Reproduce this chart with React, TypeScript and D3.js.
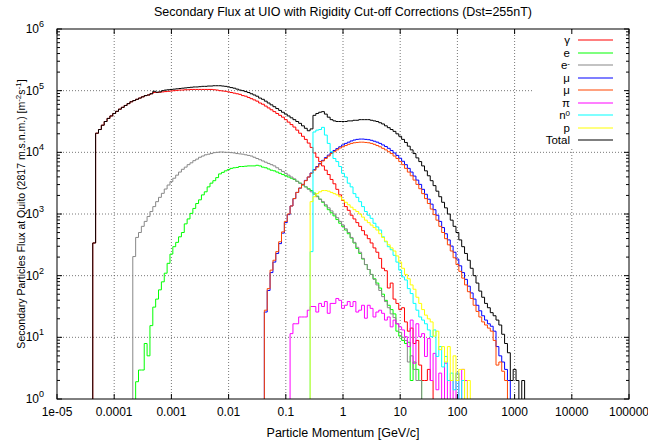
import * as d3 from 'd3';
import React from 'react';

const WIDTH = 648;
const HEIGHT = 441;
const MARGIN = { top: 29, right: 19, bottom: 42, left: 57 };
const BINS_PER_DECADE = 20;

const TITLE = 'Secondary Flux at UIO with Rigidity Cut-off Corrections (Dst=255nT)';
const X_LABEL = 'Particle Momentum [GeV/c]';

const xTickValues = [1e-5, 1e-4, 1e-3, 1e-2, 1e-1, 1, 10, 100, 1000, 10000, 100000];
const xTickLabels = ['1e-05', '0.0001', '0.001', '0.01', '0.1', '1', '10', '100', '1000', '10000', '100000'];
const yTickExponents = [0, 1, 2, 3, 4, 5, 6];

// histogram values: log10(flux) per bin (20 bins / decade),
// each series starts at the bin centred on its *Start momentum [GeV/c]
const gammaStart = 4.47e-5;
const gammaLogFlux = [
  2.53, 4.31, 4.37, 4.44, 4.5, 4.55, 4.59, 4.63,
  4.665, 4.7, 4.73, 4.76, 4.79, 4.82, 4.84, 4.86, 4.88, 4.9,
  4.92, 4.93, 4.95, 4.97, 4.97, 4.975, 4.98, 4.985, 4.99, 4.995,
  5.0, 5.005, 5.01, 5.01, 5.015, 5.015, 5.02, 5.02, 5.02, 5.02,
  5.02, 5.02, 5.02, 5.02, 5.015, 5.01, 5.0, 4.995, 4.99, 4.98,
  4.97, 4.96, 4.95, 4.94, 4.92, 4.91, 4.89, 4.87, 4.85, 4.83,
  4.8, 4.78, 4.75, 4.72, 4.69, 4.66, 4.63, 4.6, 4.57, 4.53,
  4.49, 4.45, 4.41, 4.36, 4.31, 4.26, 4.21, 4.15, 4.08, 3.99,
  3.92, 3.85, 3.78, 3.71, 3.64, 3.56, 3.49, 3.4, 3.31, 3.22,
  3.12, 3.06, 2.98, 2.92, 2.86, 2.8, 2.73, 2.66, 2.6, 2.53,
  2.45, 2.38, 2.28, 2.12, 2.08, 1.8, 1.88, 1.62, 1.55, 1.45,
  1.48, 1.25, 1.1, 1.15, 0.9, 0.95, 0.55, 0.3, 0.3, 0.48, 0.3,
];

const positronStart = 2.51e-4;
const positronLogFlux = [
  0.28, 0.47, 0.47,
  0.9, 0.7, 1.19, 1.49, 1.62, 1.77, 1.9, 2.04, 2.2, 2.35,
  2.47, 2.54, 2.63, 2.7, 2.84, 2.92, 3.01, 3.09, 3.17, 3.23,
  3.31, 3.36, 3.44, 3.5, 3.54, 3.59, 3.65, 3.675, 3.7, 3.72,
  3.74, 3.75, 3.755, 3.77, 3.77, 3.775, 3.78, 3.78, 3.78, 3.79,
  3.78, 3.76, 3.75, 3.73, 3.71, 3.7, 3.68, 3.66, 3.64, 3.62,
  3.6, 3.58, 3.56, 3.53, 3.5, 3.47, 3.44, 3.41, 3.38, 3.34,
  3.29, 3.24, 3.19, 3.13, 3.07, 3.02, 2.97, 2.91, 2.85, 2.8,
  2.74, 2.68, 2.61, 2.53, 2.44, 2.36, 2.27, 2.18, 2.1, 2.02,
  1.95, 1.88, 1.8, 1.7, 1.6, 1.52, 1.45, 1.38, 1.1, 1.02,
  0.95, 0.9, 0.92, 0.3, 0.6, 0.48, 0.3,
];

const electronStart = 2.24e-4;
const electronLogFlux = [
  2.31, 2.62, 2.7, 2.8,
  2.88, 2.96, 3.04, 3.12, 3.2, 3.27, 3.335, 3.405, 3.47, 3.525,
  3.58, 3.63, 3.68, 3.725, 3.76, 3.8, 3.83, 3.865, 3.89, 3.92,
  3.94, 3.96, 3.97, 3.98, 3.995, 4.0, 4.005, 4.005, 4.0, 4.0,
  3.995, 3.99, 3.98, 3.975, 3.97, 3.96, 3.95, 3.94, 3.92, 3.9,
  3.88, 3.86, 3.84, 3.82, 3.8, 3.78, 3.75, 3.72, 3.69, 3.66,
  3.63, 3.6, 3.57, 3.53, 3.5, 3.47, 3.44, 3.4, 3.36, 3.32,
  3.28, 3.24, 3.2, 3.15, 3.1, 3.05, 3.0, 2.94, 2.88, 2.82,
  2.76, 2.7, 2.62, 2.54, 2.46, 2.38, 2.28, 2.18, 2.1, 2.02,
  1.94, 1.85, 1.76, 1.66, 1.58, 1.48, 1.38, 1.32, 1.22, 1.08,
  1.0, 0.95, 0.6, 0.7, 0.48, 0.3, 0.3,
];

const muPlusStart = 0.0447;
const muPlusLogFlux = [
  1.41, 1.76, 2.05, 2.22, 2.36, 2.52, 2.69, 2.86,
  2.99, 3.13, 3.25, 3.35, 3.42, 3.48, 3.545, 3.6, 3.665, 3.72,
  3.77, 3.82, 3.87, 3.915, 3.955, 3.995, 4.03, 4.06, 4.09, 4.12,
  4.145, 4.165, 4.185, 4.2, 4.21, 4.215, 4.215, 4.21, 4.205, 4.195,
  4.18, 4.165, 4.145, 4.12, 4.095, 4.065, 4.03, 3.99, 3.95, 3.905,
  3.855, 3.8, 3.74, 3.68, 3.615, 3.55, 3.48, 3.4, 3.32, 3.24,
  3.16, 3.07, 2.98, 2.88, 2.78, 2.68, 2.58, 2.48, 2.38, 2.27,
  2.16, 2.05, 1.94, 1.83, 1.72, 1.62, 1.52, 1.43, 1.35, 1.28,
  1.22, 1.18, 1.1, 0.85, 0.7, 0.6, 0.48, 0.3,
];

const muMinusStart = 0.0447;
const muMinusLogFlux = [
  1.44, 1.79, 2.09, 2.25, 2.39, 2.55, 2.71, 2.88,
  3.0, 3.13, 3.25, 3.35, 3.42, 3.48, 3.54, 3.6, 3.66, 3.71,
  3.76, 3.81, 3.86, 3.9, 3.94, 3.98, 4.01, 4.04, 4.07, 4.09,
  4.11, 4.13, 4.145, 4.155, 4.16, 4.165, 4.165, 4.16, 4.155, 4.145,
  4.13, 4.11, 4.09, 4.065, 4.04, 4.01, 3.98, 3.94, 3.9, 3.85,
  3.8, 3.74, 3.68, 3.62, 3.55, 3.48, 3.41, 3.33, 3.25, 3.17,
  3.08, 2.99, 2.9, 2.8, 2.7, 2.6, 2.5, 2.4, 2.29, 2.18,
  2.07, 1.96, 1.85, 1.74, 1.63, 1.52, 1.42, 1.33, 1.25, 1.2,
  1.15, 1.1, 0.95, 0.55, 0.6, 0.45, 0.3,
];

const pionStart = 0.126;
const pionLogFlux = [
  1.06, 1.22, 1.22, 1.33, 1.33, 1.33, 1.44, 1.5, 1.5,
  1.41, 1.55, 1.5, 1.58, 1.39, 1.55, 1.55, 1.63, 1.6, 1.47,
  1.52, 1.58, 1.5, 1.58, 1.41, 1.44, 1.52, 1.31, 1.52, 1.47,
  1.33, 1.41, 1.44, 1.39, 1.28, 1.33, 1.17, 1.28, 1.22, 1.17,
  1.12, 1.01, 0.85, 1.28, 0.58, 1.22, 1.01, 1.06, 0.69, 0.98,
  0.3, 0.74, 0.15, 0.42, null, 0.58, null, 0.3, null, 0.42, null, 0.48, 0.3,
];

const neutronStart = 0.282;
const neutronLogFlux = [
  2.39, 4.33,
  4.36, 4.37, 4.405, 4.28, 4.145, 4.01, 3.9, 3.85, 3.77, 3.66,
  3.6, 3.5, 3.44, 3.33, 3.27, 3.2, 3.12, 3.04, 2.98, 2.93,
  2.85, 2.79, 2.74, 2.63, 2.55, 2.47, 2.42, 2.33, 2.22, 2.09,
  1.98, 1.93, 1.79, 1.71, 1.55, 1.44, 1.33, 1.28, 1.22, 1.12,
  1.01, 1.12, 0.69, 0.85, 0.52, 0.69, 0.3, 0.42, 0.15, 0.42, null, 0.3,
];

const protonStart = 0.282;
const protonLogFlux = [
  3.2, 3.28,
  3.33, 3.36, 3.38, 3.38, 3.37, 3.35, 3.33, 3.31, 3.28, 3.23,
  3.19, 3.15, 3.11, 3.07, 3.04, 3.0, 2.95, 2.9, 2.86, 2.82,
  2.78, 2.74, 2.68, 2.62, 2.56, 2.5, 2.45, 2.4, 2.32, 2.22,
  2.12, 2.02, 1.95, 1.85, 1.78, 1.65, 1.55, 1.45, 1.36, 1.3,
  1.25, 1.02, 1.1, 0.8, 0.85, 0.6, 0.85, 0.3, 0.7, 0.3, 0.48, 0.48, null, 0.3,
];

const totalStart = 4.47e-5;
const totalLogFlux = [
  2.53, 4.31, 4.37, 4.44, 4.5, 4.55, 4.59, 4.63,
  4.665, 4.7, 4.73, 4.76, 4.79, 4.82, 4.84, 4.86, 4.88, 4.9,
  4.92, 4.93, 4.95, 4.99, 4.975, 4.98, 5.0, 5.01, 5.015, 5.02,
  5.025, 5.03, 5.035, 5.04, 5.045, 5.05, 5.055, 5.06, 5.06, 5.065,
  5.07, 5.07, 5.075, 5.075, 5.08, 5.08, 5.08, 5.075, 5.07, 5.06,
  5.05, 5.04, 5.025, 5.01, 5.0, 4.985, 4.97, 4.95, 4.93, 4.91,
  4.88, 4.86, 4.83, 4.8, 4.77, 4.74, 4.71, 4.68, 4.65, 4.62,
  4.59, 4.56, 4.53, 4.5, 4.47, 4.43, 4.39, 4.35, 4.38, 4.6,
  4.63, 4.65, 4.66, 4.62, 4.57, 4.53, 4.51, 4.5, 4.5, 4.5,
  4.5, 4.51, 4.51, 4.52, 4.52, 4.53, 4.53, 4.53, 4.53, 4.52,
  4.51, 4.5, 4.48, 4.46, 4.43, 4.4, 4.37, 4.34, 4.3, 4.26,
  4.21, 4.16, 4.1, 4.04, 3.98, 3.91, 3.85, 3.78, 3.7, 3.62,
  3.54, 3.46, 3.37, 3.28, 3.19, 3.1, 3.0, 2.9, 2.8, 2.7,
  2.58, 2.47, 2.36, 2.25, 2.12, 2.0, 1.88, 1.75, 1.65, 1.55,
  1.48, 1.4, 1.35, 1.28, 1.2, 1.05, 0.9, 0.75, 0.3, 0.48,
  0.3, null, 0.3,
];

interface Series {
  label: string;
  sup?: string;
  color: string;
  start: number;
  values: (number | null)[];
}

const series: Series[] = [
  { label: 'γ', color: '#ff0000', start: gammaStart, values: gammaLogFlux },
  { label: 'e', color: '#00ff00', start: positronStart, values: positronLogFlux },
  { label: 'e', sup: '-', color: '#888888', start: electronStart, values: electronLogFlux },
  { label: 'μ', color: '#0000ff', start: muPlusStart, values: muPlusLogFlux },
  { label: 'μ', color: '#ff4500', start: muMinusStart, values: muMinusLogFlux },
  { label: 'π', color: '#ff00ff', start: pionStart, values: pionLogFlux },
  { label: 'n', sup: '0', color: '#00ffff', start: neutronStart, values: neutronLogFlux },
  { label: 'p', color: '#ffff00', start: protonStart, values: protonLogFlux },
  { label: 'Total', color: '#000000', start: totalStart, values: totalLogFlux },
];

const FONT = '"Liberation Sans", Arial, Helvetica, sans-serif';

const x = d3.scaleLog().domain([1e-5, 1e5]).range([MARGIN.left, WIDTH - MARGIN.right]);
const y = d3.scaleLog().domain([1, 1e6]).range([HEIGHT - MARGIN.bottom, MARGIN.top]);
const BELOW = HEIGHT - MARGIN.bottom + 6;

const line = d3.line<[number, number]>().curve(d3.curveStepAfter);

const stepPath = (s: Series) => {
  const k0 = Math.round((Math.log10(s.start) + 5) * BINS_PER_DECADE);
  const edge = (k: number) => x(Math.pow(10, -5 + (k - 0.5) / BINS_PER_DECADE));
  const yv = (v: number | null) => (v == null ? BELOW : y(Math.pow(10, v)));
  const pts: [number, number][] = [[edge(k0), BELOW]];
  s.values.forEach((v, i) => pts.push([edge(k0 + i), yv(v)]));
  const kEnd = k0 + s.values.length;
  pts.push([edge(kEnd), yv(s.values[s.values.length - 1])]);
  pts.push([edge(kEnd), BELOW]);
  return line(pts) || '';
};

const App: React.FC = () => {
  const x0 = MARGIN.left;
  const x1 = WIDTH - MARGIN.right;
  const y0 = MARGIN.top;
  const y1 = HEIGHT - MARGIN.bottom;
  const minorY: number[] = [];
  for (let e = 0; e < 6; e++) for (let m = 2; m <= 9; m++) minorY.push(m * Math.pow(10, e));
  const legendX = 570;
  const legendY = (i: number) => 40 + i * 12.5;

  return (
    <svg width={WIDTH} height={HEIGHT} style={{ position: 'absolute', left: 0, top: 0, background: '#fff' }} fontFamily={FONT}>
      <defs>
        <clipPath id="plotClip">
          <rect x={x0} y={y0} width={x1 - x0} height={y1 - y0} />
        </clipPath>
      </defs>
      <rect width={WIDTH} height={HEIGHT} fill="#fff" />

      {/* grid */}
      <g stroke="#555" strokeWidth={0.8} strokeDasharray="1,2">
        {xTickValues.slice(1, -1).map(v => (
          <line key={`gx${v}`} x1={x(v)} x2={x(v)} y1={y0} y2={y1} />
        ))}
        {yTickExponents.slice(1, -1).map(e => (
          <line key={`gy${e}`} x1={x0} x2={x1} y1={y(Math.pow(10, e))} y2={y(Math.pow(10, e))} />
        ))}
      </g>

      {/* histograms */}
      <g clipPath="url(#plotClip)" fill="none" strokeWidth={1}>
        {series.map((s, i) => (
          <path key={i} d={stepPath(s)} stroke={s.color} />
        ))}
      </g>

      {/* legend */}
      <rect x={532} y={31} width={95} height={116} fill="#fff" />
      <g fontSize={11.5}>
        {series.map((s, i) => (
          <g key={i}>
            <text x={legendX} y={legendY(i) + 4} textAnchor="end">
              {s.label}
              {s.sup && (
                <tspan dy={-3.5} fontSize={8}>
                  {s.sup}
                </tspan>
              )}
            </text>
            <line
              x1={578}
              x2={613}
              y1={Math.round(legendY(i))}
              y2={Math.round(legendY(i))}
              stroke={s.color}
              strokeWidth={1.2}
            />
          </g>
        ))}
      </g>

      {/* border and ticks */}
      <rect x={x0} y={y0} width={x1 - x0} height={y1 - y0} fill="none" stroke="#000" strokeWidth={1} />
      <g stroke="#000" strokeWidth={1}>
        {xTickValues.map(v => (
          <g key={`tx${v}`}>
            <line x1={x(v)} x2={x(v)} y1={y1} y2={y1 - 5} />
            <line x1={x(v)} x2={x(v)} y1={y0} y2={y0 + 5} />
          </g>
        ))}
        {yTickExponents.map(e => (
          <g key={`ty${e}`}>
            <line x1={x0} x2={x0 + 5} y1={y(Math.pow(10, e))} y2={y(Math.pow(10, e))} />
            <line x1={x1} x2={x1 - 5} y1={y(Math.pow(10, e))} y2={y(Math.pow(10, e))} />
          </g>
        ))}
        {minorY.map(v => (
          <g key={`my${v}`}>
            <line x1={x0} x2={x0 + 3} y1={y(v)} y2={y(v)} />
            <line x1={x1} x2={x1 - 3} y1={y(v)} y2={y(v)} />
          </g>
        ))}
      </g>

      {/* tick labels */}
      <g fontSize={12} fill="#000">
        {xTickValues.map((v, i) => (
          <text key={`lx${v}`} x={x(v)} y={y1 + 17} textAnchor="middle">
            {xTickLabels[i]}
          </text>
        ))}
        {yTickExponents.map(e => (
          <text key={`ly${e}`} x={x0 - 13} y={y(Math.pow(10, e)) + 4} textAnchor="end">
            10
            <tspan dy={-6} fontSize={9}>
              {e}
            </tspan>
          </text>
        ))}
      </g>

      {/* titles */}
      <text x={(x0 + x1) / 2} y={16} textAnchor="middle" fontSize={12.5}>
        {TITLE}
      </text>
      <text x={(x0 + x1) / 2} y={437} textAnchor="middle" fontSize={12.5}>
        {X_LABEL}
      </text>
      <text transform={`translate(25,${(y0 + y1) / 2}) rotate(-90)`} textAnchor="middle" fontSize={10.5}>
        Secondary Particles Flux at Quito (2817 m.s.n.m.) [m
        <tspan dy={-4} fontSize={8}>-2</tspan>
        <tspan dy={4}>s</tspan>
        <tspan dy={-4} fontSize={8}>-1</tspan>
        <tspan dy={4}>]</tspan>
      </text>
    </svg>
  );
};

export default App;
